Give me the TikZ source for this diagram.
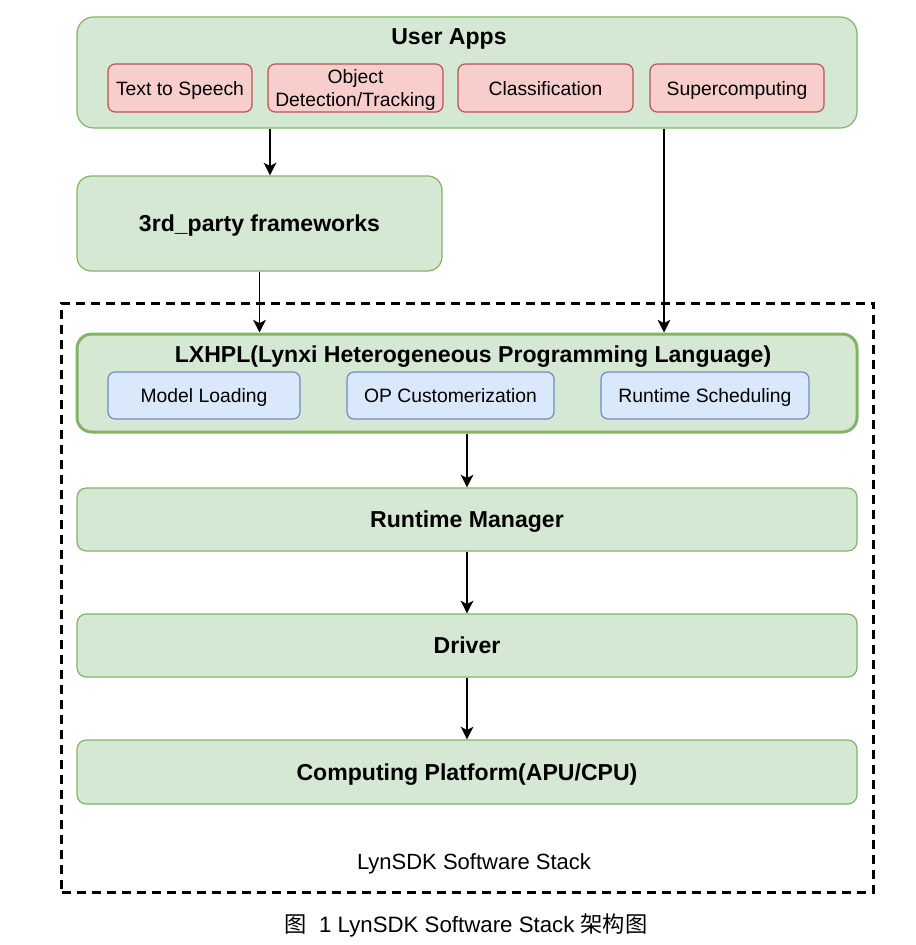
\documentclass[tikz,border=0pt]{standalone}
\usepackage{fontspec}
\setmainfont{Liberation Sans}
\newfontfamily\cjk{Noto Sans CJK SC}
\usetikzlibrary{arrows.meta}

\definecolor{appgreen}{HTML}{D5E8D4}
\definecolor{appgreenline}{HTML}{82B366}
\definecolor{appred}{HTML}{F8CECC}
\definecolor{appredline}{HTML}{B85450}
\definecolor{appblue}{HTML}{DAE8FC}
\definecolor{appblueline}{HTML}{6C8EBF}

\tikzset{
  layerbox/.style={draw=appgreenline, fill=appgreen, line width=0.9pt, inner sep=0pt},
  appbox/.style={draw=appredline, fill=appred, line width=0.9pt, rounded corners=5.4pt,
    inner sep=0pt, minimum height=36pt, align=center, text depth=0pt, font=\fontsize{14.5}{16}\selectfont},
  modbox/.style={draw=appblueline, fill=appblue, line width=0.9pt, rounded corners=5.3pt,
    inner sep=0pt, minimum height=35.25pt, text depth=0pt, font=\fontsize{14.5}{16}\selectfont},
  boldtext/.style={text depth=0pt, font=\fontsize{17.3}{20}\selectfont\bfseries},
  flow/.style={line width=1.3pt, -{Stealth[length=9.5pt,width=9.5pt,inset=2.5pt]}},
}

\begin{document}
\begin{tikzpicture}[x=0.75pt, y=-0.75pt]
\useasboundingbox (0,0) rectangle (916,945);

% User Apps
\node[layerbox, rounded corners=12.5pt, minimum width=585pt, minimum height=83.25pt] (userapps) at (467, 72.5) {};
\node[boldtext] (userappstitle) at (449, 37) {User Apps};
\node[appbox, minimum width=108pt] (tts) at (180, 88) {Text to Speech};
\node[appbox, minimum width=131.25pt] (objdet) at (355.5, 88) {Object\\[1.2pt]Detection/Tracking};
\node[appbox, minimum width=131.25pt] (classif) at (545.5, 88) {Classification};
\node[appbox, minimum width=130.5pt] (supercomp) at (737, 88) {Supercomputing};

% 3rd party
\node[layerbox, rounded corners=10.7pt, minimum width=273.75pt, minimum height=71.25pt, boldtext] (thirdparty) at (259.5, 223.5) {3rd\_party frameworks};

% LynSDK stack
\node[draw, line width=2.25pt, dash pattern=on 6.75pt off 4.5pt, minimum width=609pt, minimum height=441.75pt, inner sep=0pt] (stack) at (467.5, 597.5) {};
\node[text depth=0pt, font=\fontsize{16.5}{19}\selectfont] (stacklabel) at (474, 862) {LynSDK Software Stack};

\node[layerbox, line width=2.25pt, rounded corners=11pt, minimum width=585pt, minimum height=73.5pt] (lxhpl) at (467, 383) {};
\node[boldtext] (lxhpltitle) at (473, 354) {LXHPL(Lynxi Heterogeneous Programming Language)};
\node[modbox, minimum width=144pt] (modelload) at (204, 395.5) {Model Loading};
\node[modbox, minimum width=155.25pt] (opcustom) at (450.5, 395.5) {OP Customerization};
\node[modbox, minimum width=156pt] (rtsched) at (705, 395.5) {Runtime Scheduling};

\node[layerbox, rounded corners=7pt, minimum width=585pt, minimum height=47.25pt, boldtext] (rtmanager) at (467, 519.5) {Runtime Manager};
\node[layerbox, rounded corners=7pt, minimum width=585pt, minimum height=47.25pt, boldtext] (driver) at (467, 645.5) {Driver};
\node[layerbox, rounded corners=7pt, minimum width=585pt, minimum height=48pt, boldtext] (platform) at (467, 772) {Computing Platform(APU/CPU)};

% connectors
\coordinate (tapleft) at (270, 0);
\coordinate (tapright) at (664, 0);
\draw[flow] (userapps.south -| tapleft) -- (thirdparty.north -| tapleft);
\draw[flow] (userapps.south -| tapright) -- (lxhpl.north -| tapright);
\draw[flow] (thirdparty.south) -- (thirdparty.south |- lxhpl.north);
\draw[flow] (lxhpl.south) -- (rtmanager.north);
\draw[flow] (rtmanager.south) -- (driver.north);
\draw[flow] (driver.south) -- (platform.north);

% caption
\node[text depth=0pt, font=\fontsize{16.7}{19}\selectfont] (caption) at (466, 923) {{\cjk 图}\ \ 1 LynSDK Software Stack {\cjk 架构图}};
\end{tikzpicture}
\end{document}
